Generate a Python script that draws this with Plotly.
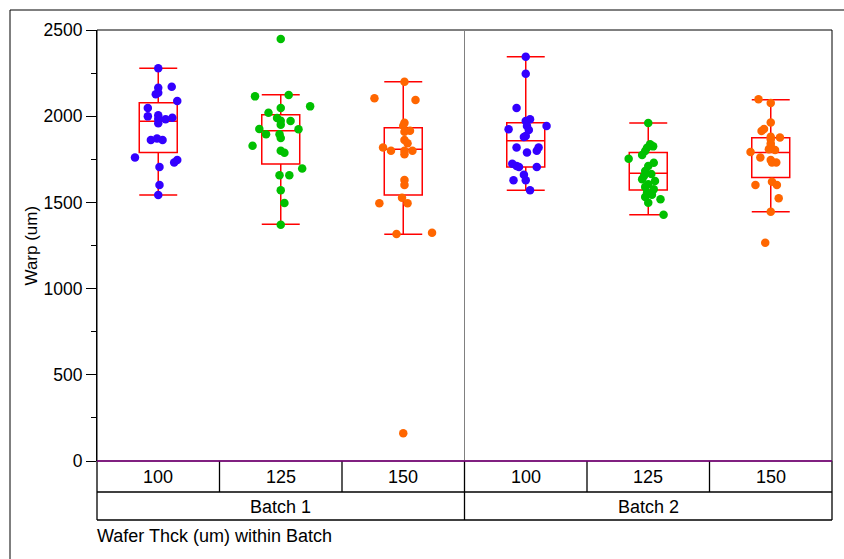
import plotly.graph_objects as go

# ---------------- data ----------------
thickness = ["100", "125", "150", "100", "125", "150"]
batches = ["Batch 1", "Batch 2"]

b1_100 = [2278, 2165, 2171, 2127, 2136, 2088, 2047, 1999, 2005, 1984, 1959, 1982, 1991,
          1862, 1870, 1862, 1761, 1705, 1732, 1746, 1601, 1543]
b1_100_jit = [0.00, 0.00, 0.11, -0.02, 0.00, 0.155, -0.085, -0.085, 0.00, 0.00, 0.00, 0.06, 0.115,
              -0.06, -0.01, 0.035, -0.19, 0.01, 0.13, 0.155, 0.01, 0.00]

b1_125 = [2448, 2115, 2123, 2057, 2020, 2047, 1989, 1974, 1951, 1972, 1926, 1924, 1895, 1895,
          1873, 1829, 1800, 1788, 1696, 1657, 1657, 1570, 1496, 1371]
b1_125_jit = [0, -0.21, 0.065, 0.24, -0.10, 0, -0.03, 0, 0, 0.08, -0.175, 0.145, -0.12, -0.01,
              0, -0.23, 0, 0.03, 0.175, -0.01, 0.07, 0, 0.03, 0]

b1_150 = [2200, 2104, 2094, 1962, 1945, 1916, 1910, 1862, 1843, 1819, 1800, 1800, 1779, 1800,
          1630, 1601, 1527, 1495, 1495, 1317, 1324, 161]
b1_150_jit = [0.01, -0.235, 0.10, 0.01, 0, 0.055, 0.01, 0.01, 0.035, -0.165, -0.10, 0.01, 0.01, 0.075,
              0.01, 0.01, -0.01, -0.195, 0.035, -0.055, 0.235, 0]

b2_100 = [2345, 2246, 2047, 1972, 1982, 1943, 1920, 1924, 1943, 1885, 1879, 1819, 1790, 1800,
          1819, 1724, 1711, 1705, 1705, 1661, 1628, 1628, 1570]
b2_100_jit = [0, 0, -0.075, 0, 0.035, 0.01, 0.025, -0.14, 0.17, 0, -0.015, -0.075, 0.01, 0.09,
              0.105, -0.11, -0.075, -0.055, 0.09, -0.015, 0, -0.10, 0.035]

b2_125 = [1960, 1837, 1817, 1798, 1753, 1730, 1711, 1682, 1653, 1624, 1605, 1576, 1556, 1531,
          1498, 1518, 1429, 1825, 1775, 1665, 1635, 1590, 1545]
b2_125_jit = [0, 0.015, -0.01, -0.025, -0.16, 0.045, 0, -0.025, -0.035, 0.055, 0, 0.045, -0.01, -0.025,
              0, 0.10, 0.125, 0.04, -0.05, 0.025, -0.05, -0.025, 0.03]

b2_150 = [2098, 2076, 1964, 1914, 1926, 1881, 1866, 1877, 1843, 1827, 1808, 1804, 1792, 1761,
          1746, 1732, 1732, 1620, 1601, 1601, 1524, 1446, 1266]
b2_150_jit = [-0.10, 0, 0, -0.075, -0.055, 0, 0, 0.075, 0, 0, -0.015, 0.035, -0.165, -0.085,
              0, 0.045, 0.01, 0.01, 0.05, -0.125, 0.065, 0, -0.045]

# box statistics as drawn
box_q1 = [1790, 1723, 1543, 1705, 1572, 1645]
box_median = [1970, 1916, 1808, 1858, 1669, 1790]
box_q3 = [2078, 2009, 1933, 1962, 1790, 1875]
box_low = [1543, 1373, 1315, 1570, 1429, 1446]
box_up = [2278, 2125, 2200, 2345, 1960, 2096]

groups = [(b1_100, b1_100_jit), (b1_125, b1_125_jit), (b1_150, b1_150_jit),
          (b2_100, b2_100_jit), (b2_125, b2_125_jit), (b2_150, b2_150_jit)]
colors = ["#3300ff", "#00c000", "#ff6600", "#3300ff", "#00c000", "#ff6600"]

# ---------------- layout geometry ----------------
W, H = 844, 559
ML, MR, MT, MB = 97, 12, 30, 98
PW, PH = W - ML - MR, H - MT - MB


def px_x(px):
    return (px - ML) / PW


def px_y(py):
    return (H - MB - py) / PH


FONT = "Liberation Sans, Arial, sans-serif"
FS = 18

fig = go.Figure()

fig.add_trace(go.Box(
    x=list(range(len(thickness))),
    q1=box_q1, median=box_median, q3=box_q3,
    lowerfence=box_low, upperfence=box_up,
    width=0.31, whiskerwidth=1,
    line=dict(color="#ff0000", width=1.5),
    fillcolor="rgba(0,0,0,0)",
    boxpoints=False, showlegend=False, hoverinfo="skip",
))

for i, ((vals, jit), col) in enumerate(zip(groups, colors)):
    fig.add_trace(go.Scatter(
        x=[i + j for j in jit], y=vals, mode="markers",
        marker=dict(color=col, size=8.5, line=dict(width=0)),
        showlegend=False, hoverinfo="y",
    ))

shapes = []
# outer frame
shapes.append(dict(type="rect", xref="paper", yref="paper",
                   x0=px_x(10), x1=px_x(W + 20), y0=px_y(H + 20), y1=px_y(10),
                   line=dict(color="black", width=1)))
# plot frame
shapes.append(dict(type="rect", xref="paper", yref="paper", x0=0, x1=1, y0=0, y1=1,
                   line=dict(color="black", width=1)))
# batch divider inside plot
shapes.append(dict(type="line", xref="paper", yref="paper", x0=0.5, x1=0.5, y0=0, y1=1,
                   line=dict(color="#808080", width=1)))
# table rows
row1_bot = px_y(492)
row2_bot = px_y(520)
for yy in (row1_bot, row2_bot):
    shapes.append(dict(type="line", xref="paper", yref="paper", x0=0, x1=1, y0=yy, y1=yy,
                       line=dict(color="black", width=1.3)))
n = len(thickness)
for k in range(n + 1):
    shapes.append(dict(type="line", xref="paper", yref="paper", x0=k / n, x1=k / n,
                       y0=row1_bot, y1=0, line=dict(color="black", width=1.3)))
for k in range(len(batches) + 1):
    xx = k / len(batches)
    shapes.append(dict(type="line", xref="paper", yref="paper", x0=xx, x1=xx,
                       y0=row2_bot, y1=row1_bot, line=dict(color="black", width=1.3)))
# zero line (purple)
shapes.append(dict(type="line", xref="paper", yref="paper", x0=0, x1=1, y0=0, y1=0,
                   line=dict(color="#800080", width=1.5)))

annotations = []
for i, t in enumerate(thickness):
    annotations.append(dict(x=i, xref="x", y=px_y(477), yref="paper", text=t,
                            showarrow=False, xanchor="center", yanchor="middle",
                            font=dict(family=FONT, size=FS, color="black")))
for k, b in enumerate(batches):
    annotations.append(dict(x=(k + 0.5) / len(batches), xref="paper", y=px_y(507),
                            yref="paper", text=b, showarrow=False, xanchor="center", yanchor="middle",
                            font=dict(family=FONT, size=FS, color="black")))
annotations.append(dict(x=px_x(95), xref="paper", y=px_y(536), yref="paper",
                        text="Wafer Thck (um) within Batch", showarrow=False,
                        xanchor="left", yanchor="middle",
                        font=dict(family=FONT, size=FS, color="black")))
annotations.append(dict(x=px_x(31), xref="paper", y=0.5, yref="paper", text="Warp (um)",
                        textangle=-90, showarrow=False, xanchor="center", yanchor="middle",
                        font=dict(family=FONT, size=17, color="black")))

fig.update_layout(
    width=W, height=H,
    margin=dict(l=ML, r=MR, t=MT, b=MB, pad=0),
    paper_bgcolor="white", plot_bgcolor="white",
    font=dict(family=FONT, size=FS, color="black"),
    shapes=shapes, annotations=annotations,
    xaxis=dict(range=[-0.5, n - 0.5], showticklabels=False, showgrid=False, zeroline=False,
               ticks="", showline=False, fixedrange=True),
    yaxis=dict(range=[0, 2500], tick0=0, dtick=500, ticks="outside", ticklen=10,
               tickwidth=1, tickcolor="black", showgrid=False, zeroline=False,
               showline=True, linecolor="black", linewidth=1,
               tickfont=dict(family=FONT, size=17.5, color="black"),
               minor=dict(dtick=250, ticks="outside", ticklen=5, tickcolor="black", tickwidth=1)),
)

fig.write_html("out.html")
